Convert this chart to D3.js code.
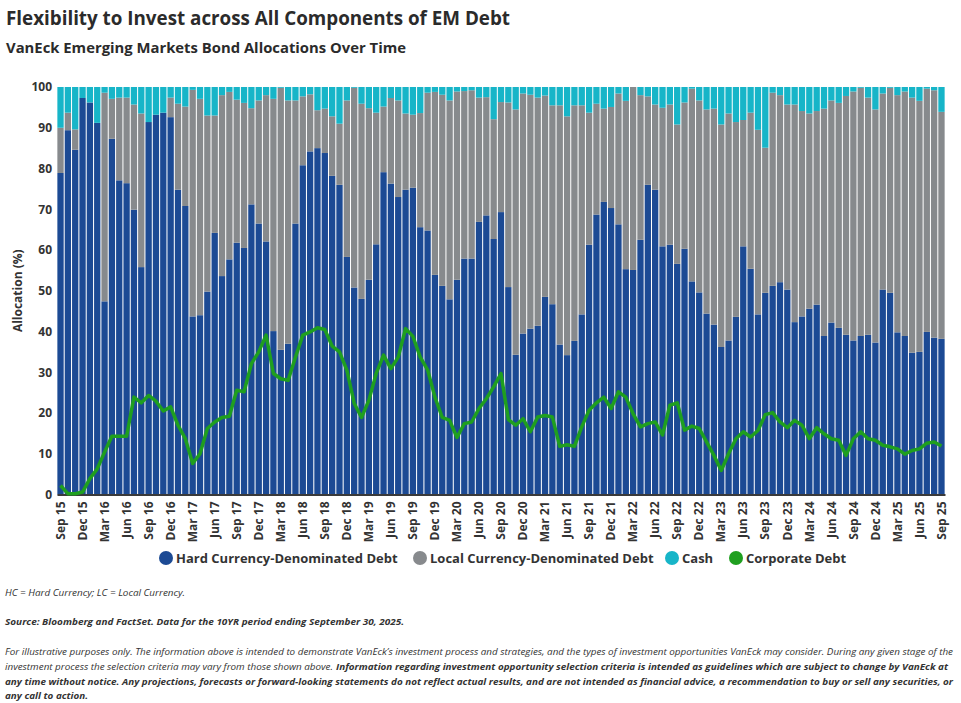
<!DOCTYPE html>
<html>
<head>
<meta charset="utf-8">
<script src="https://cdn.jsdelivr.net/npm/d3@7"></script>
<style>
  body { margin: 0; background: #fff; }
  svg { display: block; font-family: "Open Sans", sans-serif; }
</style>
</head>
<body>
<div id="chart"></div>
<script>
// monthly categories, Sep 2015 .. Sep 2025
const months = d3.timeMonths(new Date(2015, 8, 1), new Date(2025, 9, 1));

const hardCurrency = [
  78.9, 89.4, 84.6, 97.3, 96.2, 91.2, 47.4, 87.3, 77.1, 76.4,
  69.9, 55.8, 91.4, 93.2, 93.7, 92.6, 74.8, 70.8, 43.7, 44.0,
  49.8, 64.2, 53.6, 57.7, 61.8, 60.5, 71.2, 66.5, 62.1, 40.1,
  35.5, 37.0, 66.5, 80.8, 84.2, 85.0, 83.8, 78.2, 76.0, 58.3,
  50.8, 48.0, 52.7, 61.4, 79.1, 76.3, 73.0, 74.8, 75.3, 65.6,
  64.8, 53.9, 51.2, 47.9, 52.7, 57.9, 57.9, 66.9, 68.5, 62.7,
  69.3, 50.9, 34.3, 39.5, 40.7, 41.4, 48.5, 46.7, 36.8, 34.2,
  37.7, 44.2, 61.3, 68.7, 71.8, 70.3, 66.3, 55.3, 55.1, 62.5,
  76.0, 74.8, 60.9, 61.3, 56.6, 60.3, 52.3, 49.6, 44.4, 41.7,
  36.2, 37.8, 43.6, 60.9, 55.4, 44.2, 49.5, 51.2, 52.1, 50.3,
  42.3, 43.7, 45.6, 46.6, 38.9, 42.2, 40.9, 39.2, 37.8, 38.9,
  39.2, 37.3, 50.3, 49.5, 39.8, 38.9, 34.8, 35.0, 39.9, 38.5, 38.2
];

const localCurrency = [
  11.1, 4.3, 5.0, 0, 0, 0, 51.2, 9.8, 20.3, 21.0,
  25.8, 37.7, 0, 0, 0, 4.8, 21.1, 24.4, 55.6, 53.1,
  43.2, 28.8, 44.4, 41.1, 35.1, 35.6, 23.6, 30.2, 35.9, 57.0,
  64.3, 59.7, 30.2, 16.9, 14.0, 9.3, 10.9, 14.6, 15.0, 38.4,
  49.0, 47.9, 42.1, 32.3, 16.1, 21.0, 23.7, 18.7, 17.9, 28.0,
  33.8, 44.9, 46.9, 48.8, 46.2, 41.1, 41.3, 30.5, 29.0, 29.4,
  27.0, 45.3, 60.2, 58.9, 57.4, 56.0, 49.4, 48.8, 58.7, 58.6,
  57.8, 51.3, 32.4, 27.2, 22.9, 24.8, 32.1, 41.3, 44.9, 35.5,
  21.7, 20.9, 34.0, 34.4, 34.2, 35.9, 47.3, 47.1, 50.1, 53.0,
  54.6, 55.7, 47.8, 31.0, 38.3, 45.3, 35.6, 47.4, 45.9, 45.4,
  53.4, 50.4, 47.9, 47.5, 55.8, 54.5, 55.2, 58.6, 61.1, 60.9,
  58.2, 57.2, 48.1, 50.3, 58.2, 60.0, 62.6, 61.6, 59.7, 60.7, 55.7
];

const cash = [
  10.0, 6.3, 10.4, 2.7, 3.8, 8.8, 1.4, 2.9, 2.6, 2.6,
  4.3, 6.5, 8.6, 6.8, 6.3, 2.6, 4.1, 4.8, 0.7, 2.9,
  7.0, 7.0, 2.0, 1.2, 3.1, 3.9, 5.2, 3.3, 2.0, 2.9,
  0.2, 3.3, 3.3, 2.3, 1.8, 5.7, 5.3, 7.2, 9.0, 3.3,
  0.2, 4.1, 5.2, 6.3, 4.8, 2.7, 3.3, 6.5, 6.8, 6.4,
  1.4, 1.2, 1.9, 3.3, 1.1, 1.0, 0.8, 2.6, 2.5, 7.9,
  3.7, 3.8, 5.5, 1.6, 1.9, 2.6, 2.1, 4.5, 4.5, 7.2,
  4.5, 4.5, 6.3, 4.1, 5.3, 4.9, 1.6, 3.4, 0, 2.0,
  2.3, 4.3, 5.1, 4.3, 9.2, 3.8, 0.4, 3.3, 5.5, 5.3,
  9.2, 6.5, 8.6, 8.1, 6.3, 10.5, 14.9, 1.4, 2.0, 4.3,
  4.3, 5.9, 6.5, 5.9, 5.3, 3.3, 3.9, 2.2, 1.1, 0.2,
  2.6, 5.5, 1.6, 0.2, 2.0, 1.1, 2.6, 3.4, 0.4, 0.8, 6.1
];

const corporate = [
  2.2, 0.2, 0.2, 0.6, 3.9, 6.3, 10.4, 14.3, 14.3, 14.3,
  23.9, 22.5, 24.3, 22.9, 20.5, 21.5, 17.0, 13.7, 7.6, 10.0,
  16.2, 17.8, 18.9, 19.2, 25.6, 25.2, 32.1, 35.0, 39.1, 29.7,
  28.4, 28.0, 33.7, 39.1, 39.9, 40.9, 40.5, 36.4, 35.0, 30.5,
  22.4, 18.9, 23.1, 29.7, 34.2, 30.9, 33.7, 40.7, 38.8, 33.7,
  30.6, 23.9, 18.9, 18.2, 14.0, 17.4, 17.8, 21.1, 23.5, 26.4,
  29.7, 18.4, 17.0, 18.6, 15.4, 19.0, 19.4, 19.0, 11.8, 12.2,
  11.8, 16.6, 20.7, 22.5, 23.9, 21.1, 25.2, 23.9, 19.8, 16.6,
  17.4, 17.8, 14.6, 21.9, 22.5, 15.8, 16.8, 16.2, 12.9, 9.6,
  5.9, 10.0, 13.7, 15.4, 14.1, 15.7, 19.6, 20.1, 17.8, 16.4,
  18.2, 17.0, 13.7, 16.4, 14.9, 13.7, 13.3, 9.6, 13.7, 15.4,
  13.7, 13.3, 12.1, 11.7, 11.2, 9.9, 10.8, 11.2, 12.6, 12.9, 11.9
];

const yTicks = [0, 10, 20, 30, 40, 50, 60, 70, 80, 90, 100];

const seriesNames = ["Hard Currency-Denominated Debt", "Local Currency-Denominated Debt", "Cash"];
const seriesKeys = ["hc", "lc", "cash"];

// styles
const width = 961, height = 703;
const margin = {top: 87, left: 57, right: 16, bottom: 208.5};
const colors = {hc: "#1c4a94", lc: "#878a8d", cash: "#17b5c8", corp: "#1f9f1f"};
const textColor = "#333";

const svg = d3.select("#chart").append("svg")
  .attr("width", width)
  .attr("height", height);

svg.append("text")
  .attr("x", 6).attr("y", 25)
  .style("font-size", "20px").style("font-weight", 700)
  .attr("fill", "#2b2b2b")
  .attr("textLength", 504).attr("lengthAdjust", "spacingAndGlyphs")
  .text("Flexibility to Invest across All Components of EM Debt");

svg.append("text")
  .attr("x", 6).attr("y", 53)
  .style("font-size", "15px").style("font-weight", 700)
  .attr("fill", "#2b2b2b")
  .attr("textLength", 400).attr("lengthAdjust", "spacingAndGlyphs")
  .text("VanEck Emerging Markets Bond Allocations Over Time");

const data = months.map((m, i) => ({
  date: m, hc: hardCurrency[i], lc: localCurrency[i], cash: cash[i], corp: corporate[i]
}));

const x = d3.scaleBand()
  .domain(months.map(d => +d))
  .range([margin.left, width - margin.right])
  .paddingInner(0.14)
  .paddingOuter(0.05);

const y = d3.scaleLinear()
  .domain([0, 100])
  .range([height - margin.bottom, margin.top]);

const stack = d3.stack().keys(seriesKeys)(data);

svg.append("g").selectAll("g")
  .data(stack)
  .join("g")
    .attr("fill", s => colors[s.key])
  .selectAll("rect")
  .data(s => s)
  .join("rect")
    .attr("x", d => x(+d.data.date))
    .attr("width", x.bandwidth())
    .attr("y", d => y(d[1]))
    .attr("height", d => Math.max(0, y(d[0]) - y(d[1])));

// y axis
const yAxis = svg.append("g")
  .attr("transform", `translate(${margin.left},0)`)
  .call(d3.axisLeft(y).tickValues(yTicks).tickSize(0).tickPadding(5))
  .call(g => g.select(".domain").remove());
yAxis.selectAll("text")
  .style("font-size", "12px").style("font-weight", 700)
  .style("font-family", "Open Sans, sans-serif")
  .attr("fill", textColor);

svg.append("text")
  .attr("transform", `translate(22,${y(50)}) rotate(-90)`)
  .attr("text-anchor", "middle")
  .style("font-size", "12px").style("font-weight", 700)
  .attr("fill", textColor)
  .text("Allocation (%)");

// x axis
const xAxis = svg.append("g")
  .attr("transform", `translate(0,${y(0)})`)
  .call(d3.axisBottom(x)
    .tickValues(months.filter((d, i) => i % 3 === 0).map(d => +d))
    .tickFormat(d => d3.timeFormat("%b %y")(new Date(d)))
    .tickSize(0));
xAxis.select(".domain")
  .attr("stroke", "#3a3a3a").attr("stroke-width", 2);
xAxis.selectAll("text")
  .attr("transform", "rotate(-90)")
  .attr("text-anchor", "end")
  .attr("x", -7).attr("y", 0).attr("dy", "0.35em")
  .style("font-size", "12px").style("font-weight", 700)
  .style("font-family", "Open Sans, sans-serif")
  .attr("fill", textColor);

// corporate debt line
const line = d3.line()
  .x(d => x(+d.date) + x.bandwidth() / 2)
  .y(d => y(d.corp));
svg.append("path")
  .datum(data)
  .attr("fill", "none")
  .attr("stroke", colors.corp)
  .attr("stroke-width", 3.5)
  .attr("stroke-linejoin", "round")
  .attr("d", line);

// legend
const legendItems = [
  {label: seriesNames[0], color: colors.hc, cx: 166},
  {label: seriesNames[1], color: colors.lc, cx: 420},
  {label: seriesNames[2], color: colors.cash, cx: 672},
  {label: "Corporate Debt", color: colors.corp, cx: 736}
];
const legend = svg.append("g").selectAll("g")
  .data(legendItems)
  .join("g")
    .attr("transform", d => `translate(${d.cx},558)`);
legend.append("circle").attr("r", 7).attr("fill", d => d.color);
legend.append("text")
  .attr("x", 10).attr("dy", "0.35em")
  .style("font-size", "13px").style("font-weight", 700)
  .attr("fill", textColor)
  .text(d => d.label);

// footnotes
const notes = svg.append("g")
  .style("font-style", "italic")
  .style("font-size", "9.6px")
  .attr("fill", "#333");

function noteLine(yPos, parts) {
  const t = notes.append("text").attr("y", yPos);
  parts.forEach(p => {
    t.append("tspan")
      .attr("x", p.x)
      .style("font-weight", p.bold ? 700 : 400)
      .attr("textLength", p.w)
      .attr("lengthAdjust", "spacingAndGlyphs")
      .text(p.t);
  });
}

noteLine(596, [{x: 5, w: 180, t: "HC = Hard Currency; LC = Local Currency."}]);
noteLine(625, [{x: 5, w: 399, bold: true, t: "Source: Bloomberg and FactSet. Data for the 10YR period ending September 30, 2025."}]);
noteLine(655, [{x: 5, w: 948, t: "For illustrative purposes only. The information above is intended to demonstrate VanEck\u2019s investment process and strategies, and the types of investment opportunities VanEck may consider. During any given stage of the"}]);
noteLine(670, [
  {x: 5, w: 328, t: "investment process the selection criteria may vary from those shown above."},
  {x: 336, w: 612, bold: true, t: "Information regarding investment opportunity selection criteria is intended as guidelines which are subject to change by VanEck at"}
]);
noteLine(685, [{x: 5, w: 948, bold: true, t: "any time without notice. Any projections, forecasts or forward-looking statements do not reflect actual results, and are not intended as financial advice, a recommendation to buy or sell any securities, or"}]);
noteLine(699, [{x: 5, w: 83, bold: true, t: "any call to action."}]);
</script>
</body>
</html>
